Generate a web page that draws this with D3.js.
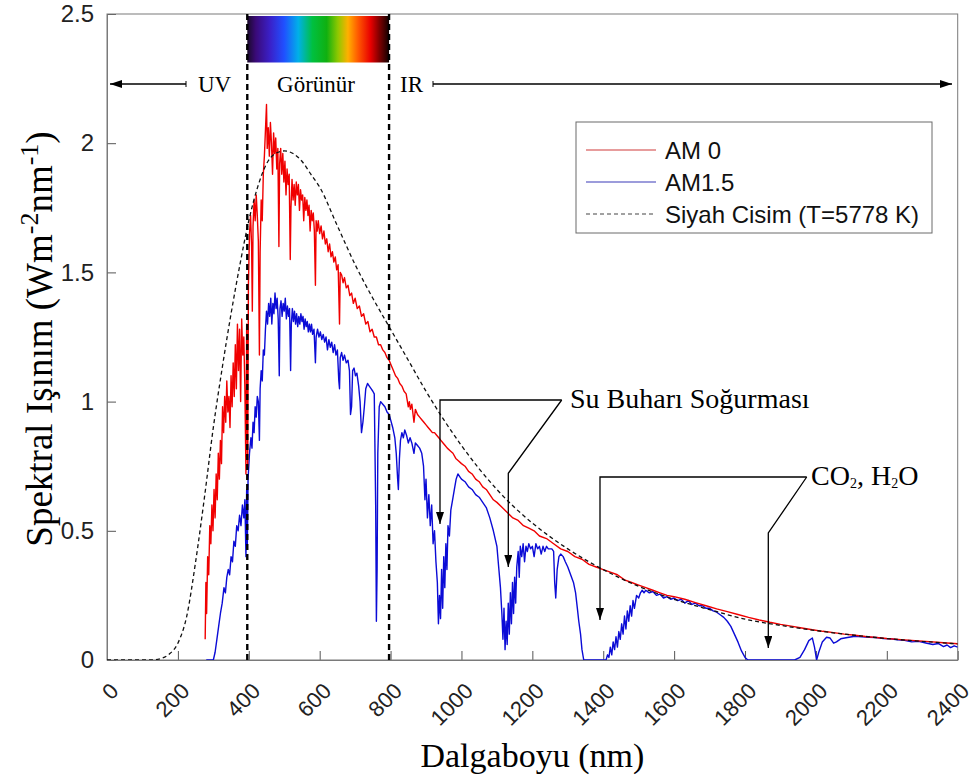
<!DOCTYPE html>
<html>
<head>
<meta charset="utf-8">
<script src="https://cdn.jsdelivr.net/npm/d3@7"></script>
<style>
  body { margin: 0; background: #fff; }
  svg { display: block; }
</style>
</head>
<body>
<div id="chart"></div>
<script>
// Values (wavelength nm, irradiance W m-2 nm-1)
const am0 = [
  [277,0.08],[279,0.30],[281,0.18],[284,0.40],[287,0.33],[290,0.52],[293,0.45],[296,0.60],[299,0.50],[302,0.66],
  [305,0.55],[308,0.72],[311,0.62],[314,0.80],[317,0.70],[320,0.85],[323,0.76],[326,0.98],[329,0.88],[332,1.02],
  [335,0.92],[338,1.08],[341,0.96],[344,1.02],[347,0.90],[350,1.10],[353,0.98],[356,1.15],[359,1.02],[362,1.22],
  [365,1.05],[368,1.30],[371,1.12],[374,1.28],[377,1.00],[380,1.32],[383,1.18],[386,1.25],[389,1.05],[392,0.72],
  [394,1.30],[396,1.10],[397,0.75],[399,1.45],[402,1.65],[405,1.72],[408,1.60],[410,1.35],[412,1.68],[415,1.78],
  [418,1.70],[421,1.80],[424,1.72],[427,1.62],[430,1.18],[432,1.58],[435,1.78],[438,1.70],[441,1.88],[444,1.95],
  [447,2.05],[450,2.15],[452,1.98],[455,2.06],[458,1.95],[461,2.08],[464,2.00],[467,1.88],[470,2.04],[473,1.96],
  [476,2.02],[479,1.90],[482,1.98],[485,1.60],[487,1.92],[490,1.98],[493,1.88],[496,1.96],[499,1.85],[502,1.93],
  [505,1.80],[508,1.90],[511,1.84],[514,1.88],[517,1.55],[519,1.75],[522,1.86],[525,1.78],[528,1.84],[531,1.76],
  [534,1.85],[537,1.80],[540,1.84],[543,1.74],[546,1.82],[549,1.78],[552,1.80],[555,1.70],[558,1.79],[561,1.74],
  [564,1.78],[567,1.72],[570,1.76],[573,1.66],[576,1.74],[579,1.70],[582,1.73],[585,1.66],[588,1.45],[590,1.70],
  [593,1.66],[596,1.70],[600,1.65],[604,1.68],[608,1.63],[612,1.66],[616,1.61],[620,1.63],[624,1.58],[628,1.61],
  [632,1.56],[636,1.58],[640,1.54],[644,1.56],[648,1.51],[652,1.53],[656,1.30],[658,1.50],[662,1.49],[666,1.46],
  [670,1.48],[675,1.44],[680,1.45],[685,1.41],[690,1.42],[695,1.38],[700,1.40],[706,1.36],[712,1.37],[718,1.33],
  [724,1.34],[730,1.30],[736,1.31],[742,1.27],[748,1.28],[754,1.25],[760,1.25],[766,1.22],[772,1.22],[778,1.20],
  [784,1.19],[790,1.17],[796,1.16],[802,1.14],[808,1.12],[814,1.10],[820,1.09],[826,1.07],[832,1.06],[838,1.04],
  [844,1.03],[850,0.98],[853,1.00],[856,0.97],[860,0.99],[866,0.92],[870,0.97],[876,0.95],[882,0.94],[888,0.93],
  [894,0.92],[900,0.91],[906,0.90],[912,0.89],[918,0.88],[924,0.88],[930,0.87],[936,0.86],[942,0.85],[948,0.84],
  [954,0.83],[960,0.82],[968,0.81],[976,0.80],[984,0.78],[992,0.77],[1000,0.76],[1010,0.75],[1020,0.73],[1030,0.72],
  [1040,0.70],[1050,0.69],[1060,0.67],[1070,0.66],[1080,0.64],[1090,0.62],[1100,0.61],[1115,0.59],[1130,0.57],[1145,0.55],
  [1160,0.54],[1175,0.52],[1190,0.51],[1205,0.50],[1220,0.48],[1240,0.47],[1260,0.45],[1280,0.43],[1300,0.42],[1320,0.40],
  [1340,0.39],[1360,0.37],[1380,0.36],[1400,0.35],[1420,0.34],[1440,0.33],[1460,0.31],[1480,0.30],[1500,0.29],[1520,0.28],
  [1540,0.27],[1560,0.26],[1580,0.25],[1600,0.245],[1630,0.235],[1660,0.222],[1690,0.21],[1720,0.198],[1750,0.187],[1780,0.176],
  [1810,0.165],[1840,0.155],[1870,0.146],[1900,0.138],[1930,0.131],[1960,0.124],[1990,0.117],[2020,0.111],[2050,0.106],[2080,0.100],
  [2110,0.096],[2140,0.091],[2170,0.087],[2200,0.083],[2240,0.079],[2280,0.075],[2320,0.071],[2360,0.067],[2400,0.063]
];

const am15 = [
  [280,0],[300,0],[305,0.03],[310,0.08],[315,0.13],[320,0.18],[325,0.22],[330,0.28],[334,0.26],[338,0.32],
  [342,0.35],[346,0.33],[350,0.40],[354,0.38],[358,0.46],[362,0.44],[366,0.52],[370,0.50],[374,0.56],[378,0.52],
  [382,0.60],[386,0.55],[389,0.62],[392,0.40],[394,0.66],[396,0.45],[398,0.70],[402,0.80],[406,0.86],[409,0.82],
  [412,0.92],[415,0.88],[418,0.98],[421,0.94],[424,1.02],[427,1.00],[430,0.85],[432,1.05],[435,1.12],[438,1.08],
  [441,1.20],[444,1.18],[447,1.28],[450,1.35],[453,1.30],[456,1.38],[459,1.33],[462,1.40],[465,1.30],[468,1.38],
  [471,1.34],[474,1.42],[477,1.36],[480,1.40],[483,1.32],[486,1.10],[488,1.36],[491,1.39],[494,1.33],[497,1.38],
  [500,1.35],[503,1.40],[506,1.32],[509,1.37],[512,1.33],[515,1.36],[518,1.12],[520,1.30],[523,1.36],[526,1.31],
  [529,1.35],[532,1.30],[535,1.34],[538,1.29],[541,1.33],[544,1.30],[547,1.34],[550,1.31],[553,1.33],[556,1.28],
  [559,1.32],[562,1.29],[565,1.31],[568,1.27],[571,1.30],[574,1.27],[577,1.30],[580,1.26],[584,1.28],[588,1.15],
  [590,1.25],[594,1.28],[598,1.25],[602,1.27],[606,1.24],[610,1.26],[614,1.23],[618,1.25],[622,1.20],[626,1.24],
  [630,1.21],[634,1.23],[638,1.19],[642,1.22],[646,1.18],[650,1.20],[654,1.08],[656,1.05],[658,1.17],[662,1.19],
  [666,1.16],[670,1.18],[675,1.15],[680,1.16],[684,1.12],[687,0.95],[690,0.98],[693,1.12],[697,1.13],[701,1.10],
  [705,1.11],[710,1.06],[714,1.00],[718,0.88],[722,0.92],[726,0.98],[730,1.05],[735,1.07],[740,1.06],[745,1.05],
  [750,1.04],[754,1.03],[758,0.60],[760,0.15],[762,0.35],[764,0.80],[768,0.98],[772,1.00],[778,0.99],[784,0.98],
  [790,0.96],[796,0.95],[800,0.93],[806,0.90],[812,0.86],[816,0.80],[820,0.70],[822,0.66],[825,0.78],[828,0.85],
  [832,0.88],[836,0.86],[840,0.89],[845,0.87],[850,0.84],[855,0.86],[860,0.84],[866,0.80],[870,0.84],[876,0.83],
  [882,0.82],[888,0.80],[893,0.75],[897,0.62],[900,0.70],[904,0.55],[908,0.64],[912,0.52],[916,0.60],[920,0.45],
  [924,0.50],[928,0.38],[932,0.30],[935,0.14],[938,0.25],[941,0.16],[944,0.35],[947,0.20],[950,0.40],[953,0.28],
  [956,0.45],[959,0.35],[962,0.52],[966,0.48],[970,0.58],[975,0.62],[980,0.66],[985,0.70],[990,0.72],[995,0.71],
  [1000,0.70],[1010,0.69],[1020,0.67],[1030,0.66],[1040,0.64],[1050,0.63],[1060,0.61],[1070,0.59],[1080,0.55],[1090,0.50],
  [1100,0.44],[1105,0.36],[1110,0.28],[1114,0.18],[1117,0.08],[1120,0.20],[1123,0.04],[1126,0.15],[1129,0.06],[1132,0.22],
  [1135,0.10],[1138,0.26],[1141,0.14],[1144,0.30],[1147,0.18],[1150,0.32],[1153,0.22],[1156,0.36],[1160,0.42],[1163,0.32],
  [1166,0.44],[1170,0.40],[1174,0.45],[1178,0.38],[1182,0.44],[1186,0.42],[1190,0.45],[1195,0.43],[1200,0.44],[1205,0.40],
  [1210,0.45],[1215,0.43],[1220,0.44],[1225,0.41],[1230,0.44],[1235,0.42],[1240,0.44],[1245,0.43],[1250,0.43],[1255,0.43],
  [1260,0.42],[1263,0.30],[1266,0.24],[1270,0.35],[1275,0.40],[1280,0.41],[1287,0.40],[1293,0.38],[1300,0.36],[1308,0.33],
  [1316,0.30],[1322,0.26],[1327,0.20],[1331,0.15],[1336,0.10],[1340,0.04],[1345,0],[1408,0],[1412,0.02],[1416,0.01],
  [1420,0.05],[1424,0.02],[1428,0.07],[1432,0.04],[1436,0.09],[1440,0.05],[1444,0.11],[1448,0.08],[1452,0.14],[1456,0.10],
  [1460,0.17],[1464,0.12],[1468,0.19],[1472,0.15],[1476,0.21],[1480,0.17],[1484,0.23],[1488,0.20],[1494,0.25],[1500,0.24],
  [1505,0.26],[1510,0.27],[1515,0.26],[1520,0.27],[1530,0.26],[1540,0.265],[1550,0.25],[1560,0.255],[1570,0.24],[1580,0.245],
  [1590,0.235],[1600,0.24],[1610,0.23],[1620,0.235],[1630,0.22],[1640,0.23],[1650,0.215],[1660,0.22],[1670,0.21],[1680,0.21],
  [1690,0.20],[1700,0.20],[1710,0.19],[1720,0.185],[1730,0.175],[1740,0.165],[1750,0.15],[1760,0.13],[1770,0.10],[1780,0.07],
  [1790,0.035],[1800,0.01],[1808,0],[1940,0],[1955,0.01],[1968,0.04],[1980,0.075],[1990,0.085],[1996,0.05],[2002,0],
  [2008,0.03],[2018,0.07],[2030,0.088],[2040,0.085],[2050,0.065],[2058,0.07],[2070,0.082],[2085,0.086],[2110,0.092],[2130,0.09],
  [2150,0.088],[2170,0.087],[2190,0.083],[2210,0.082],[2230,0.078],[2250,0.076],[2270,0.07],[2290,0.072],[2310,0.066],[2330,0.06],
  [2345,0.064],[2360,0.052],[2370,0.058],[2380,0.048],[2390,0.055],[2400,0.05]
];

const blackbody = [
  [0,0],[125,0],[150,0.005],[175,0.022],[200,0.065],[225,0.17],[250,0.38],[275,0.63],[300,0.90],[325,1.13],
  [350,1.34],[375,1.53],[400,1.70],[425,1.83],[450,1.92],[475,1.96],[500,1.97],[525,1.96],[550,1.93],[575,1.88],
  [600,1.83],[650,1.68],[700,1.53],[750,1.40],[800,1.28],[850,1.16],[900,1.04],[950,0.93],[1000,0.83],[1050,0.74],
  [1100,0.66],[1150,0.59],[1200,0.53],[1300,0.43],[1400,0.35],[1500,0.285],[1600,0.235],[1700,0.195],[1800,0.158],[1900,0.134],
  [2000,0.114],[2100,0.097],[2200,0.083],[2300,0.072],[2400,0.062]
];

const xTicks = [0, 200, 400, 600, 800, 1000, 1200, 1400, 1600, 1800, 2000, 2200, 2400];
const yTicks = [0, 0.5, 1, 1.5, 2, 2.5];
const yTickLabels = ["0", "0.5", "1", "1.5", "2", "2.5"];
const visibleBand = [400, 800];
const legendItems = ["AM 0", "AM1.5", "Siyah Cisim (T=5778 K)"];

const width = 975, height = 778;
const plot = { left: 107, right: 957.7, top: 14, bottom: 660 };
const sans = "'Liberation Sans', Arial, Helvetica, sans-serif";
const serif = "'Liberation Serif', 'Times New Roman', Times, serif";

const svg = d3.select("#chart").append("svg")
  .attr("width", width).attr("height", height);

const x = d3.scaleLinear().domain([0, 2400]).range([plot.left, plot.right]);
const y = d3.scaleLinear().domain([0, 2.5]).range([plot.bottom, plot.top]);

const defs = svg.append("defs");
defs.append("clipPath").attr("id", "clip")
  .append("rect")
  .attr("x", plot.left).attr("y", plot.top)
  .attr("width", plot.right - plot.left).attr("height", plot.bottom - plot.top);

// spectrum colour bar over the visible band
const grad = defs.append("linearGradient").attr("id", "rainbow");
const stops = [
  [0, "#1a0a2a"], [0.06, "#3a0a78"], [0.16, "#3a20c8"], [0.26, "#2050ff"], [0.36, "#00b0e8"],
  [0.46, "#00c040"], [0.56, "#10b010"], [0.64, "#90c800"], [0.71, "#ffb000"], [0.78, "#ff5a00"],
  [0.87, "#e80000"], [0.94, "#700000"], [1, "#100000"]
];
grad.selectAll("stop").data(stops).enter().append("stop")
  .attr("offset", d => d[0]).attr("stop-color", d => d[1]);

svg.append("rect")
  .attr("x", x(visibleBand[0]) - 1.5).attr("y", 16)
  .attr("width", x(visibleBand[1]) - x(visibleBand[0])).attr("height", 46.5)
  .attr("fill", "url(#rainbow)");

// axes
const xAxis = svg.append("g")
  .attr("transform", "translate(0," + plot.bottom + ")")
  .call(d3.axisBottom(x).tickValues(xTicks).tickFormat(d3.format("d"))
    .tickSizeInner(-9).tickSizeOuter(0));
xAxis.selectAll("text")
  .attr("x", 0).attr("y", 0).attr("dy", "0.35em")
  .attr("text-anchor", "end")
  .attr("transform", "translate(7,27) rotate(-45)");

const yAxis = svg.append("g")
  .attr("transform", "translate(" + plot.left + ",0)")
  .call(d3.axisLeft(y).tickValues(yTicks).tickFormat((d, i) => yTickLabels[i])
    .tickSizeInner(-9).tickSizeOuter(0).tickPadding(13));

xAxis.selectAll(".tick text")
  .style("font-family", sans).style("font-size", "22px").attr("fill", "#222");
yAxis.selectAll(".tick text")
  .style("font-family", sans).style("font-size", "24px").attr("fill", "#222");
svg.selectAll(".tick line").attr("stroke", "#555");
svg.selectAll(".domain").attr("stroke", "#7a7a7a");

svg.append("rect")
  .attr("x", plot.left).attr("y", plot.top)
  .attr("width", plot.right - plot.left).attr("height", plot.bottom - plot.top)
  .attr("fill", "none").attr("stroke", "#7a7a7a").attr("stroke-width", 1);

// curves
const line = d3.line().x(d => x(d[0])).y(d => y(d[1]));
const curves = svg.append("g").attr("clip-path", "url(#clip)");

curves.append("path").datum(am15)
  .attr("d", line).attr("fill", "none")
  .attr("stroke", "#0b0bd6").attr("stroke-width", 1.4).attr("stroke-linejoin", "round");

curves.append("path").datum(am0)
  .attr("d", line).attr("fill", "none")
  .attr("stroke", "#f00000").attr("stroke-width", 1.4).attr("stroke-linejoin", "round");

curves.append("path").datum(blackbody)
  .attr("d", d3.line().curve(d3.curveMonotoneX).x(d => x(d[0])).y(d => y(d[1])))
  .attr("fill", "none").attr("stroke", "#111").attr("stroke-width", 1.3)
  .attr("stroke-dasharray", "4,3");

// visible band boundaries
svg.selectAll(".band-line").data(visibleBand).enter().append("line")
  .attr("x1", d => x(d) - 1.5).attr("x2", d => x(d) - 1.5)
  .attr("y1", plot.top).attr("y2", plot.bottom)
  .attr("stroke", "#000").attr("stroke-width", 2.4).attr("stroke-dasharray", "6,4");

// arrow marker
defs.append("marker").attr("id", "arrow")
  .attr("viewBox", "0 0 12 8").attr("refX", 12).attr("refY", 4)
  .attr("markerWidth", 12).attr("markerHeight", 8).attr("markerUnits", "userSpaceOnUse")
  .attr("orient", "auto")
  .append("path").attr("d", "M0,0 L12,4 L0,8 Z").attr("fill", "#000");

// UV / IR range arrows
const rangeY = 84;
svg.append("line").attr("x1", 186).attr("x2", 110).attr("y1", rangeY).attr("y2", rangeY)
  .attr("stroke", "#000").attr("stroke-width", 1.3).attr("marker-end", "url(#arrow)");
svg.append("line").attr("x1", 186).attr("x2", 186).attr("y1", rangeY - 3).attr("y2", rangeY + 3)
  .attr("stroke", "#000").attr("stroke-width", 1);
svg.append("line").attr("x1", 433).attr("x2", 952).attr("y1", rangeY).attr("y2", rangeY)
  .attr("stroke", "#000").attr("stroke-width", 1.3).attr("marker-end", "url(#arrow)");
svg.append("line").attr("x1", 433).attr("x2", 433).attr("y1", rangeY - 3).attr("y2", rangeY + 3)
  .attr("stroke", "#000").attr("stroke-width", 1);

const regionText = [["UV", 198, "start"], ["Görünür", 316, "middle"], ["IR", 400, "start"]];
svg.selectAll(".region").data(regionText).enter().append("text")
  .attr("x", d => d[1]).attr("y", 92)
  .attr("text-anchor", d => d[2])
  .style("font-family", serif).style("font-size", "23px")
  .text(d => d[0]);

// absorption annotations
const ann = svg.append("g").attr("fill", "none").attr("stroke", "#000").attr("stroke-width", 1.3);
ann.append("path").attr("d", "M561.7,400 L440,400 L440,524").attr("marker-end", "url(#arrow)");
ann.append("path").attr("d", "M561.7,400 L508.3,473.3 L508.3,567").attr("marker-end", "url(#arrow)");
ann.append("path").attr("d", "M806.7,477 L600,477 L600,620").attr("marker-end", "url(#arrow)");
ann.append("path").attr("d", "M806.7,477 L768.3,533 L768.3,648").attr("marker-end", "url(#arrow)");

svg.append("text").attr("x", 570).attr("y", 408)
  .style("font-family", serif).style("font-size", "28px")
  .text("Su Buharı Soğurması");

const co2 = svg.append("text").attr("x", 811).attr("y", 485)
  .style("font-family", serif).style("font-size", "28px");
co2.append("tspan").text("CO");
co2.append("tspan").attr("font-size", "14px").attr("dy", 3).text("2");
co2.append("tspan").attr("dy", -3).text(", H");
co2.append("tspan").attr("font-size", "14px").attr("dy", 3).text("2");
co2.append("tspan").attr("dy", -3).text("O");

// legend
const legend = svg.append("g");
legend.append("rect").attr("x", 576).attr("y", 122).attr("width", 356).attr("height", 111)
  .attr("fill", "#fff").attr("stroke", "#6a6a6a").attr("stroke-width", 1);
const legendStyle = [
  { color: "#d03a3a", dash: null },
  { color: "#3a3ab8", dash: null },
  { color: "#444", dash: "4,3" }
];
legendItems.forEach((label, i) => {
  const ly = 150 + i * 32;
  legend.append("line").attr("x1", 586).attr("x2", 656).attr("y1", ly).attr("y2", ly)
    .attr("stroke", legendStyle[i].color).attr("stroke-width", 1.2)
    .attr("stroke-dasharray", legendStyle[i].dash);
  legend.append("text").attr("x", 665).attr("y", ly).attr("dy", "0.36em")
    .style("font-family", sans).style("font-size", "24px").attr("fill", "#111")
    .text(label);
});

// axis titles
svg.append("text")
  .attr("x", (plot.left + plot.right) / 2).attr("y", 767)
  .attr("text-anchor", "middle")
  .style("font-family", serif).style("font-size", "34px")
  .text("Dalgaboyu (nm)");

const ylab = svg.append("text")
  .attr("transform", "translate(52,339) rotate(-90)")
  .attr("text-anchor", "middle")
  .style("font-family", serif).style("font-size", "37px");
ylab.append("tspan").text("Spektral Işınım (Wm");
ylab.append("tspan").attr("dy", -14).attr("font-size", "26px").text("-2");
ylab.append("tspan").attr("dy", 14).text("nm");
ylab.append("tspan").attr("dy", -14).attr("font-size", "26px").text("-1");
ylab.append("tspan").attr("dy", 14).text(")");
</script>
</body>
</html>
